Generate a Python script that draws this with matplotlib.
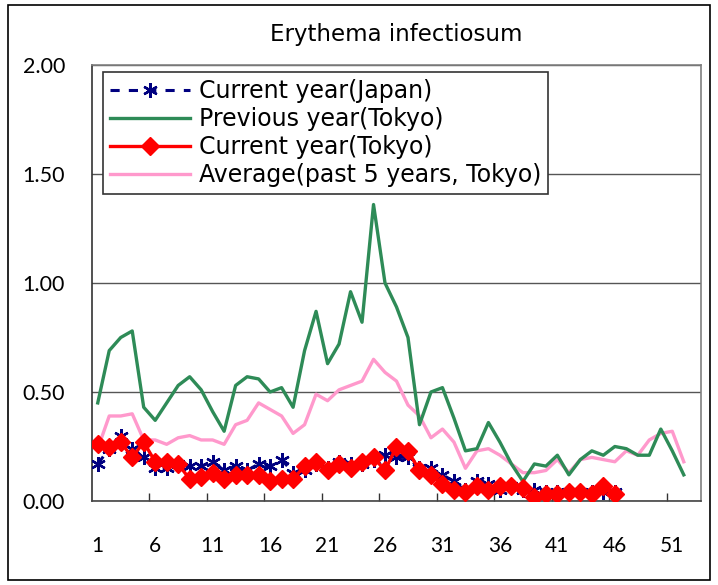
import matplotlib
matplotlib.use("Agg")
from matplotlib import pyplot as plt
from matplotlib.patches import Rectangle
import numpy as np

# weekly values per sentinel site
weeks_prev = list(range(1, 53))
prev_tokyo = [0.45, 0.69, 0.75, 0.78, 0.43, 0.37, 0.45, 0.53, 0.57, 0.51,
              0.41, 0.32, 0.53, 0.57, 0.56, 0.50, 0.52, 0.43, 0.69, 0.87,
              0.63, 0.72, 0.96, 0.82, 1.36, 1.00, 0.89, 0.75, 0.35, 0.50,
              0.52, 0.38, 0.23, 0.24, 0.36, 0.27, 0.17, 0.09, 0.17, 0.16,
              0.21, 0.12, 0.19, 0.23, 0.21, 0.25, 0.24, 0.21, 0.21, 0.33,
              0.23, 0.12]
avg_tokyo = [0.24, 0.39, 0.39, 0.40, 0.28, 0.28, 0.26, 0.29, 0.30, 0.28,
             0.28, 0.26, 0.35, 0.37, 0.45, 0.42, 0.39, 0.31, 0.35, 0.49,
             0.46, 0.51, 0.53, 0.55, 0.65, 0.59, 0.55, 0.44, 0.39, 0.29,
             0.33, 0.27, 0.15, 0.23, 0.24, 0.21, 0.17, 0.13, 0.13, 0.14,
             0.19, 0.13, 0.19, 0.20, 0.19, 0.18, 0.23, 0.21, 0.28, 0.31,
             0.32, 0.18]

weeks_cur = list(range(1, 47))
cur_tokyo = [0.26, 0.25, 0.27, 0.20, 0.27, 0.18, 0.18, 0.17, 0.10, 0.11,
             0.13, 0.10, 0.12, 0.12, 0.12, 0.09, 0.10, 0.10, 0.16, 0.18,
             0.14, 0.17, 0.15, 0.18, 0.20, 0.14, 0.25, 0.23, 0.14, 0.12,
             0.08, 0.05, 0.04, 0.07, 0.05, 0.07, 0.07, 0.06, 0.02, 0.03,
             0.03, 0.04, 0.04, 0.03, 0.07, 0.03]
cur_japan = [0.17, 0.24, 0.30, 0.24, 0.20, 0.15, 0.15, 0.17, 0.16, 0.16,
             0.18, 0.14, 0.16, 0.14, 0.17, 0.16, 0.19, 0.13, 0.14, 0.17,
             0.15, 0.18, 0.17, 0.17, 0.19, 0.21, 0.20, 0.20, 0.15, 0.15,
             0.12, 0.09, 0.05, 0.09, 0.08, 0.05, 0.07, 0.05, 0.05, 0.04,
             0.04, 0.04, 0.04, 0.04, 0.04, 0.04]

xtick_labels = ["1", "6", "11", "16", "21", "26", "31", "36", "41", "46", "51"]
ytick_values = [0.0, 0.5, 1.0, 1.5, 2.0]

plt.rcParams["font.family"] = ["DejaVu Sans"]

fig = plt.figure(figsize=(7.18, 5.85), dpi=100)
ax = fig.add_axes([92 / 718, 84 / 585, 609 / 718, 436 / 585])

# outer frame of the chart
fig.patches.append(Rectangle((8 / 718, 5 / 585), 702 / 718, 575 / 585,
                             transform=fig.transFigure, fill=False,
                             edgecolor="black", linewidth=1.2))

ax.plot(weeks_prev, avg_tokyo, color="#ff99cc", lw=2.4, zorder=2,
        label="Average(past 5 years, Tokyo)")
ax.plot(weeks_prev, prev_tokyo, color="#2e8b57", lw=2.4, zorder=3,
        label="Previous year(Tokyo)")
ax.plot(weeks_cur, cur_japan, color="#000080", lw=2.2, dashes=(3, 3),
        marker=(6, 2, 0), markersize=10.5, markeredgewidth=1.7, zorder=4,
        label="Current year(Japan)")
ax.plot(weeks_cur, cur_tokyo, color="#ff0000", lw=2.4, marker="D",
        markersize=9, zorder=5, label="Current year(Tokyo)")

ax.set_xlim(0.5, 53.5)
ax.set_ylim(0, 2)

ax.set_xticks(range(1, 53, 5))
ax.set_xticklabels(xtick_labels, family="Lato", fontsize=15)
ax.set_xticks(np.arange(5.5, 53, 5), minor=True)
ax.tick_params(axis="x", which="major", length=0, pad=25)
ax.tick_params(axis="x", which="minor", length=6, direction="in",
               color="#333333", width=1)
ax.set_yticks(ytick_values)
ax.set_yticklabels([f"{v:.2f}" for v in ytick_values], family="Lato",
                   fontsize=15.5)
ax.tick_params(axis="y", length=0, pad=19.5)

ax.yaxis.grid(True, color="#555555", lw=1)
ax.set_axisbelow(True)
for side in ["top", "right"]:
    ax.spines[side].set_color("#808080")
ax.spines["left"].set_color("#333333")
ax.spines["bottom"].set_color("#444444")
for sp in ax.spines.values():
    sp.set_linewidth(1.2)

ax.set_title("Erythema infectiosum", fontsize=16.5, pad=17)

h, l = ax.get_legend_handles_labels()
order = [2, 1, 3, 0]
leg = ax.legend([h[i] for i in order], [l[i] for i in order],
                loc="upper left", bbox_to_anchor=(0.018, 0.984),
                fontsize=17, handlelength=3.4, handletextpad=0.35,
                labelspacing=0.17, borderpad=0.3, borderaxespad=0,
                fancybox=False, framealpha=1, edgecolor="#333333")
leg.get_frame().set_linewidth(1.2)

fig.savefig("out.png", dpi=100)
